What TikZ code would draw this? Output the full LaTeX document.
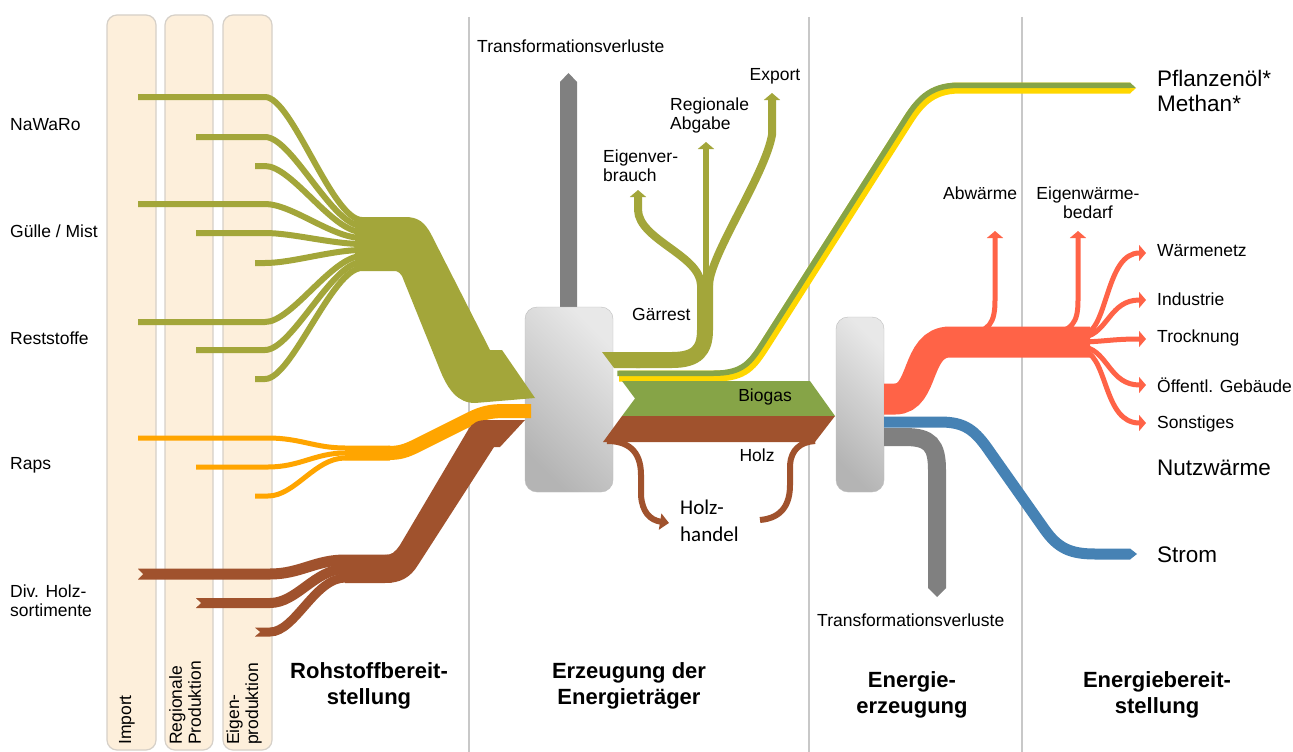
\documentclass[tikz,border=0pt]{standalone}
\usepackage{fontspec}
\setmainfont{Liberation Sans}
\newfontfamily\holzfont{Carlito}
\usetikzlibrary{arrows.meta}
\definecolor{beige}{HTML}{FDEFDB}
\definecolor{colline}{HTML}{D6D0C8}
\definecolor{sepgray}{HTML}{C8C8C8}
\definecolor{olivegr}{HTML}{A3A63A}
\definecolor{rapsor}{HTML}{FFA500}
\definecolor{holzbr}{HTML}{A0522D}
\definecolor{gasgr}{HTML}{86A447}
\definecolor{oilyel}{HTML}{FFD700}
\definecolor{heatred}{HTML}{FF6347}
\definecolor{strombl}{HTML}{4682B4}
\definecolor{lossgray}{HTML}{808080}
\definecolor{boxlight}{HTML}{E8E8E8}
\definecolor{boxdark}{HTML}{B4B4B4}
\definecolor{boxline}{HTML}{BDBDBD}

\begin{document}
\begin{tikzpicture}[x=1pt,y=-1pt,
    every node/.style={inner sep=0pt,text=black},
    lbl/.style={font=\fontsize{17.5}{19}\selectfont,align=left},
    big/.style={font=\fontsize{22.5}{25}\selectfont,align=left},
    headline/.style={font=\fontsize{22}{26}\selectfont\bfseries,align=center},
    column/.style={draw=colline,fill=beige,line width=1.2pt,rounded corners=10pt},
    divider/.style={draw=sepgray,line width=1.5pt},
    plant/.style={draw=boxline,left color=boxlight,right color=boxdark,shading angle=-45,rounded corners=12pt},
    arrowhd/.style={-{Triangle[width=16pt,length=7pt]}}]
\path[use as bounding box,fill=white] (0,0) rectangle (1293,752);

\draw[column] (107,15) rectangle (156,750);
\draw[column] (165,15) rectangle (213,750);
\draw[column] (223,15) rectangle (272,750);
\draw[divider] (469,17) -- (469,752);
\draw[divider] (809,17) -- (809,752);
\draw[divider] (1022,17) -- (1022,752);

\node[lbl,rotate=90,anchor=west] (imp) at (127,745) {Import};
\node[lbl,rotate=90,anchor=west] (reg) at (185,745) {Regionale\\Produktion};
\node[lbl,rotate=90,anchor=west] (eig) at (244,745) {Eigen-\\produktion};

\node[lbl,anchor=west] (nawaro) at (10,125) {NaWaRo};
\node[lbl,anchor=west] (guelle) at (10,231) {Gülle / Mist};
\node[lbl,anchor=west] (rest) at (10,338) {Reststoffe};
\node[lbl,anchor=west] (raps) at (10,465) {Raps};
\node[lbl,anchor=west] (holzsort) at (10,601) {Div. Holz-\\sortimente};

\draw[olivegr,line width=6pt] (138,97) -- (265,97) .. controls (292,97) and (332,220) .. (362,220) -- (398,220);
\draw[olivegr,line width=6pt] (196,137) -- (265,137) .. controls (292,137) and (332,226) .. (362,226) -- (398,226);
\draw[olivegr,line width=6pt] (255,166) -- (265,166) .. controls (292,166) and (332,232) .. (362,232) -- (398,232);
\draw[olivegr,line width=6pt] (138,204) -- (265,204) .. controls (292,204) and (332,238) .. (362,238) -- (398,238);
\draw[olivegr,line width=6pt] (196,233) -- (265,233) .. controls (292,233) and (332,244) .. (362,244) -- (398,244);
\draw[olivegr,line width=6pt] (255,263) -- (265,263) .. controls (292,263) and (332,250) .. (362,250) -- (398,250);
\draw[olivegr,line width=6pt] (138,322) -- (265,322) .. controls (292,322) and (332,256) .. (362,256) -- (398,256);
\draw[olivegr,line width=6pt] (196,350) -- (265,350) .. controls (292,350) and (332,262) .. (362,262) -- (398,262);
\draw[olivegr,line width=6pt] (255,379) -- (265,379) .. controls (292,379) and (332,268) .. (362,268) -- (398,268);

\draw[rapsor,line width=5pt] (138,438) -- (268,438) .. controls (300,438) and (315,448) .. (345,448) -- (390,448);
\draw[rapsor,line width=5pt] (196,467) -- (268,467) .. controls (300,467) and (315,453) .. (345,453) -- (390,453);
\draw[rapsor,line width=5pt] (255,496) -- (268,496) .. controls (295,496) and (315,458) .. (345,458) -- (390,458);

\draw[holzbr,line width=11pt] (138,574) -- (270,574) .. controls (300,574) and (315,560) .. (345,560) -- (392,560);
\draw[holzbr,line width=10pt] (196,603) -- (270,603) .. controls (297,603) and (315,569) .. (345,569) -- (392,569);
\draw[holzbr,line width=9pt] (255,632) -- (270,632) .. controls (295,632) and (315,578) .. (345,578) -- (392,578);
\fill[beige] (137,568) -- (143,574) -- (137,580) -- cycle;
\fill[beige] (195,597.5) -- (201,603) -- (195,608.5) -- cycle;
\fill[beige] (254,627) -- (260,632) -- (254,637) -- cycle;

\fill[lossgray] (560,310) -- (560,82) -- (568.5,73) -- (577,82) -- (577,310) -- cycle;
\node[plant,minimum width=88pt,minimum height=185pt] (erzeuger) at (569,399.5) {};
\node[plant,minimum width=48pt,minimum height=175pt] (kraftwerk) at (860,404.5) {};

\fill[olivegr] (355,217) -- (405,217) .. controls (418,217) and (425,222) .. (432,236) -- (490,350) -- (502,350) -- (535,398) -- (475,403) .. controls (458,403) and (448,390) .. (440,370) -- (402,276) .. controls (399,271) and (395,270) .. (388,270) -- (355,270) -- cycle;
\draw[rapsor,line width=14pt] (345,453) -- (388,453) .. controls (400,453) and (406,451) .. (418,445) -- (470,419) .. controls (482,413) and (490,411) .. (505,411) -- (531,411);
\fill[holzbr] (345,555) -- (385,555) .. controls (392,555) and (395,552) .. (400,545) -- (468,430) .. controls (473,422) and (478,420) .. (488,420) -- (525,420) -- (500,447) -- (494,447) -- (418,565) .. controls (410,578) and (400,583) .. (385,583) -- (345,583) -- cycle;

\fill[olivegr] (602,352) -- (640,352) -- (640,368) -- (614,368) -- cycle;
\draw[olivegr,line width=16pt] (636,360) -- (672,360) .. controls (697,360) and (705,350) .. (705,330) -- (705,275);
\draw[olivegr,line width=8pt,arrowhd] (701,285) .. controls (700,255) and (639,240) .. (638,210) -- (638,190);
\draw[olivegr,line width=6pt,arrowhd] (706,285) -- (706,142);
\draw[olivegr,line width=8pt,arrowhd] (709,285) .. controls (710,255) and (765,175) .. (772,135) -- (772,93);

\draw[oilyel,line width=11pt] (619,376) -- (715,376) .. controls (745,376) and (752,365) .. (765,345) -- (905,125) .. controls (918,104) and (930,88) .. (960,88) -- (1130,88);
\draw[gasgr,line width=5.5pt] ([shift={(-1.6,-2.75)}]619,376) -- ([shift={(-1.6,-2.75)}]715,376) .. controls ([shift={(-1.6,-2.75)}]745,376) and ([shift={(-1.6,-2.75)}]752,365) .. ([shift={(-1.6,-2.75)}]765,345) -- ([shift={(-1.6,-2.75)}]905,125) .. controls ([shift={(-1.6,-2.75)}]918,104) and ([shift={(-1.6,-2.75)}]930,88) .. ([shift={(-1.6,-2.75)}]960,88) -- (1130,85.25);
\fill[gasgr] (1130,82.5) -- (1136,88) -- (1130,88) -- cycle;
\fill[oilyel] (1130,88) -- (1136,88) -- (1130,93.5) -- cycle;

\fill[gasgr] (622,381) -- (810,381) -- (835,416) -- (622,416) -- (635,398.5) -- cycle;
\fill[holzbr] (622,416) -- (835,416) -- (815,442) -- (603,442) -- cycle;
\draw[holzbr,line width=6pt,-{Triangle[width=16pt,length=9pt]}] (607,441) .. controls (627,441) and (641,450) .. (641,475) -- (641,495) .. controls (642,512) and (650,520) .. (669,523);
\draw[holzbr,line width=6pt] (760,520) .. controls (783,518) and (790,503) .. (790,485) -- (790,465) .. controls (791,450) and (800,442) .. (815,441);

\draw[heatred,line width=5pt,arrowhd] (965,333) .. controls (990,333) and (995,322) .. (995,300) -- (995,231);
\draw[heatred,line width=5pt,arrowhd] (1045,333) .. controls (1073,333) and (1078,322) .. (1078,300) -- (1078,231);
\draw[heatred,line width=5pt,arrowhd] (1085,334) .. controls (1108,328) and (1106,253) .. (1146,253);
\draw[heatred,line width=5pt,arrowhd] (1085,337) .. controls (1108,332) and (1110,300) .. (1146,300);
\draw[heatred,line width=5pt,arrowhd] (1085,342) .. controls (1108,341) and (1115,339) .. (1146,339);
\draw[heatred,line width=5pt,arrowhd] (1085,347) .. controls (1108,352) and (1110,385) .. (1146,385);
\draw[heatred,line width=5pt,arrowhd] (1085,351) .. controls (1108,360) and (1104,423) .. (1146,423);
\draw[heatred,line width=31pt] (884,399) -- (895,399) .. controls (925,399) and (915,342) .. (950,342) -- (1090,342);

\draw[strombl,line width=11pt] (884,422) -- (940,422) .. controls (965,422) and (975,430) .. (990,452) -- (1045,530) .. controls (1058,548) and (1070,554) .. (1095,554) -- (1130,554);
\fill[strombl] (1130,548.5) -- (1137,554) -- (1130,559.5) -- cycle;
\draw[lossgray,line width=18pt] (884,437) -- (905,437) .. controls (930,437) and (937,445) .. (937,470) -- (937,588);
\fill[lossgray] (928,588) -- (937,597) -- (946,588) -- cycle;

\node[lbl,anchor=west] (verl1) at (477,46) {Transformationsverluste};
\node[lbl,anchor=west] (eigenv) at (603,166) {Eigenver-\\brauch};
\node[lbl,anchor=west] (regab) at (670,115) {Regionale\\Abgabe};
\node[lbl] (export) at (775,76) {Export};
\node[lbl,anchor=west] (gaerrest) at (632,314) {Gärrest};
\node[lbl] (biogas) at (765,397) {Biogas};
\node[lbl] (holz) at (757,455) {Holz};
\node[font=\holzfont\fontsize{21}{27}\selectfont,align=left,anchor=west] (handel) at (680,521) {Holz-\\handel};
\node[lbl,anchor=west] (verl2) at (817,620) {Transformationsverluste};

\node[lbl,anchor=west] (abw) at (943,193) {Abwärme};
\node[lbl,align=center] (eigw) at (1088,203) {Eigenwärme-\\bedarf};
\node[lbl,anchor=west] (netz) at (1157,251) {Wärmenetz};
\node[lbl,anchor=west] (ind) at (1157,299) {Industrie};
\node[lbl,anchor=west] (trock) at (1157,338) {Trocknung};
\node[lbl,anchor=west] (oeff) at (1157,385) {Öffentl. Gebäude};
\node[lbl,anchor=west] (sonst) at (1157,424) {Sonstiges};
\node[big,anchor=west] (oel) at (1157,91) {Pflanzenöl*\\Methan*};
\node[big,anchor=west] (nutzw) at (1157,468) {Nutzwärme};
\node[big,anchor=west] (strom) at (1157,555) {Strom};

\node[headline] (rohstoff) at (369,686) {Rohstoffbereit-\\stellung};
\node[headline] (traeger) at (629,686) {Erzeugung der\\Energieträger};
\node[headline] (energie) at (912,695) {Energie-\\erzeugung};
\node[headline] (bereit) at (1157,695) {Energiebereit-\\stellung};
\end{tikzpicture}
\end{document}
